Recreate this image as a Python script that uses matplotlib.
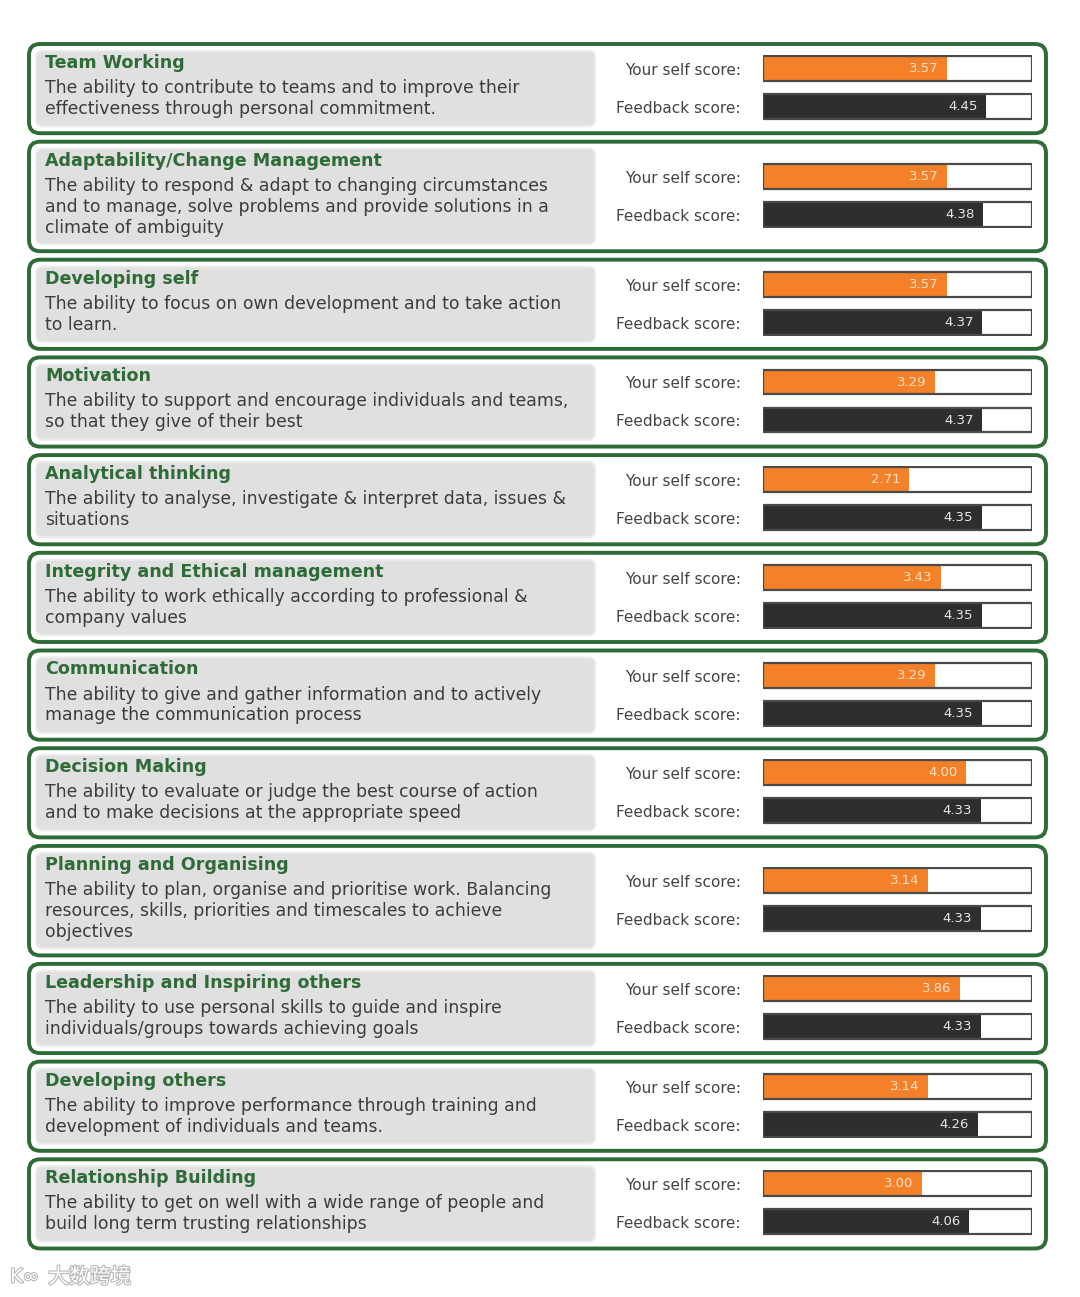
import matplotlib
matplotlib.use("Agg")
import matplotlib.pyplot as plt
from matplotlib.patches import FancyBboxPatch
import matplotlib.patheffects as pe

titles = ["Team Working", "Adaptability/Change Management", "Developing self",
          "Motivation", "Analytical thinking", "Integrity and Ethical management",
          "Communication", "Decision Making", "Planning and Organising",
          "Leadership and Inspiring others", "Developing others",
          "Relationship Building"]
descriptions = [
    "The ability to contribute to teams and to improve their\neffectiveness through personal commitment.",
    "The ability to respond & adapt to changing circumstances\nand to manage, solve problems and provide solutions in a\nclimate of ambiguity",
    "The ability to focus on own development and to take action\nto learn.",
    "The ability to support and encourage individuals and teams,\nso that they give of their best",
    "The ability to analyse, investigate & interpret data, issues &\nsituations",
    "The ability to work ethically according to professional &\ncompany values",
    "The ability to give and gather information and to actively\nmanage the communication process",
    "The ability to evaluate or judge the best course of action\nand to make decisions at the appropriate speed",
    "The ability to plan, organise and prioritise work. Balancing\nresources, skills, priorities and timescales to achieve\nobjectives",
    "The ability to use personal skills to guide and inspire\nindividuals/groups towards achieving goals",
    "The ability to improve performance through training and\ndevelopment of individuals and teams.",
    "The ability to get on well with a wide range of people and\nbuild long term trusting relationships",
]
self_scores = [3.57, 3.57, 3.57, 3.29, 2.71, 3.43, 3.29, 4.00, 3.14, 3.86, 3.14, 3.00]
feedback_scores = [4.45, 4.38, 4.37, 4.37, 4.35, 4.35, 4.35, 4.33, 4.33, 4.33, 4.26, 4.06]
row_labels = ["Your self score:", "Feedback score:"]

W, H = 1080, 1297
GREEN = "#2f6b37"
ORANGE = "#f5802a"
DARK = "#2e2e2e"
SCALE = (-0.59, 5.49)

fig = plt.figure(figsize=(W / 100, H / 100), dpi=100)
bg = fig.add_axes([0, 0, 1, 1])
bg.set_xlim(0, W)
bg.set_ylim(H, 0)
bg.axis("off")

top = 44.0
for i, title in enumerate(titles):
    nlines = descriptions[i].count("\n") + 1
    period = 118.0 if nlines == 3 else 97.7
    h = period - 8.5
    bottom = top + h
    # outer green frame
    bg.add_patch(FancyBboxPatch((29, top), 1017, h,
                                boxstyle="round,pad=0,rounding_size=11",
                                fc="white", ec=GREEN, lw=2.8))
    # grey description box
    bg.add_patch(FancyBboxPatch((36, top + 7), 559, h - 14,
                                boxstyle="round,pad=0,rounding_size=7",
                                fc="#e0e0e0", ec="#ebebeb", lw=1.5))
    bg.text(45, top + 19, title, color=GREEN, fontsize=12.6, fontweight="bold",
            va="center", ha="left")
    bg.text(45, top + 35, descriptions[i], color="#3c3c3c", fontsize=12.4,
            va="top", ha="left", linespacing=1.21)

    mid = (top + bottom) / 2
    ys = [mid - 20, mid + 18]
    for lab, yy in zip(row_labels, ys):
        bg.text(741, yy + 2, lab, color="#444444", fontsize=11, ha="right", va="center")

    # bar axes: pixel rows, value scale on x
    ax = fig.add_axes([763 / W, 1 - (ys[1] + 14) / H, 269 / W, (ys[1] - ys[0] + 28) / H])
    ax.set_xlim(*SCALE)
    ax.set_ylim(ys[1] + 14, ys[0] - 14)
    ax.axis("off")
    for val, yy, col, tcol in [(self_scores[i], ys[0], ORANGE, "#fde2c6"),
                               (feedback_scores[i], ys[1], DARK, "#e6e6e6")]:
        ax.barh(yy, val - SCALE[0], left=SCALE[0], height=25, color=col, linewidth=0)
        ax.barh(yy, SCALE[1] - SCALE[0], left=SCALE[0], height=25,
                color="none", edgecolor="#4a4a4a", linewidth=1.6)
        ax.annotate(f"{val:.2f}", (val, yy), xytext=(-6, 0), textcoords="offset points",
                    ha="right", va="center", color=tcol, fontsize=9.5)
    top += period

# watermark
bg.text(48, 1277, "大数跨境", fontsize=15, color="white", ha="left", va="center",
        family=["Noto Sans CJK SC", "DejaVu Sans"],
        path_effects=[pe.withStroke(linewidth=1.5, foreground="#b5b5b5")])
bg.text(10, 1277, "K∞", fontsize=14, color="white", ha="left", va="center",
        path_effects=[pe.withStroke(linewidth=1.5, foreground="#b5b5b5")])

fig.savefig("out.png", dpi=100, facecolor="white")
